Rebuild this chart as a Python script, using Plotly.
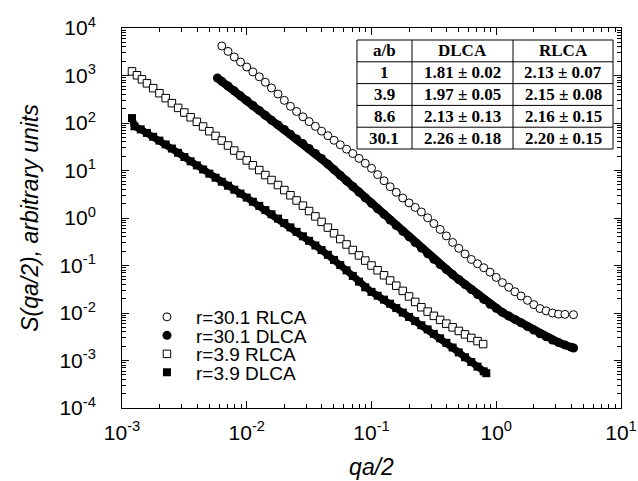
import plotly.graph_objects as go

# ---------------- data ----------------
q_rlca30 = [0.00631, 0.00708, 0.00794, 0.00891, 0.0100, 0.0112, 0.0126, 0.0141, 0.0158, 0.0178,
            0.0200, 0.0224, 0.0251, 0.0282, 0.0316, 0.0355, 0.0398, 0.0447, 0.0501, 0.0562,
            0.0631, 0.0708, 0.0794, 0.0891, 0.100, 0.112, 0.126, 0.141, 0.158, 0.178,
            0.200, 0.224, 0.251, 0.282, 0.316, 0.355, 0.398, 0.447, 0.501, 0.562,
            0.631, 0.708, 0.794, 0.891, 1.00, 1.12, 1.26, 1.41, 1.58, 1.78,
            2.00, 2.24, 2.51, 2.82, 3.16, 3.55, 4.16]
s_rlca30 = [4180, 3220, 2450, 1920, 1510, 1190, 938, 721, 546, 408,
            300, 225, 175, 135, 107, 85.1, 67.5, 54.0, 43.3, 34.8,
            28.1, 22.8, 18.0, 14.2, 11.1, 8.20, 6.08, 4.55, 3.47, 2.64,
            2.08, 1.67, 1.34, 1.01, 0.766, 0.574, 0.420, 0.306, 0.230, 0.175,
            0.134, 0.109, 0.0897, 0.0724, 0.0561, 0.0437, 0.0348, 0.0281, 0.0228, 0.0185,
            0.0150, 0.0124, 0.0111, 0.00998, 0.00946, 0.00937, 0.00923]

q_dlca30 = [0.00582, 0.00631, 0.00708, 0.00794, 0.00891, 0.0100, 0.0112, 0.0126, 0.0141, 0.0158,
            0.0178, 0.0200, 0.0224, 0.0251, 0.0282, 0.0316, 0.0355, 0.0398, 0.0447, 0.0501,
            0.0562, 0.0631, 0.0708, 0.0794, 0.0891, 0.100, 0.112, 0.126, 0.141, 0.158,
            0.178, 0.200, 0.224, 0.251, 0.282, 0.316, 0.355, 0.398, 0.447, 0.501,
            0.562, 0.631, 0.708, 0.794, 0.891, 1.00, 1.12, 1.26, 1.41, 1.58,
            1.78, 2.00, 2.24, 2.51, 2.82, 3.16, 3.55, 3.98, 4.17]
s_dlca30 = [886, 754, 601, 475, 373, 295, 234, 184, 145, 114,
            91.2, 72.9, 58.2, 46.2, 36.8, 29.0, 22.8, 17.9, 13.6, 10.4,
            7.91, 6.03, 4.60, 3.51, 2.67, 2.04, 1.56, 1.19, 0.903, 0.690,
            0.526, 0.401, 0.305, 0.233, 0.177, 0.135, 0.104, 0.0820, 0.0643, 0.0506,
            0.0397, 0.0313, 0.0245, 0.0193, 0.0153, 0.0126, 0.0103, 0.00863, 0.00733, 0.00624,
            0.00520, 0.00436, 0.00366, 0.00315, 0.00270, 0.00238, 0.00213, 0.00191, 0.00183]

q_rlca39 = [0.001202, 0.001318, 0.001445, 0.001585, 0.001778, 0.001995, 0.002239, 0.002512, 0.002818, 0.003162,
            0.003548, 0.003981, 0.004467, 0.005012, 0.005623, 0.00631, 0.00708, 0.00794, 0.00891, 0.0100,
            0.0112, 0.0126, 0.0141, 0.0158, 0.0178, 0.0200, 0.0224, 0.0251, 0.0282, 0.0316,
            0.0355, 0.0398, 0.0447, 0.0501, 0.0562, 0.0631, 0.0708, 0.0794, 0.0891, 0.100,
            0.112, 0.126, 0.141, 0.158, 0.178, 0.200, 0.224, 0.251, 0.282, 0.316,
            0.355, 0.398, 0.447, 0.501, 0.562, 0.631, 0.708, 0.785]
s_rlca39 = [1220, 1010, 830, 684, 541, 424, 334, 262, 208, 166,
            132, 106, 84.3, 67.1, 53.6, 42.7, 33.6, 26.3, 20.7, 16.3,
            12.9, 10.2, 8.02, 6.30, 4.95, 3.87, 3.01, 2.34, 1.82, 1.40,
            1.08, 0.828, 0.628, 0.476, 0.361, 0.277, 0.212, 0.163, 0.127, 0.100,
            0.0793, 0.0622, 0.0483, 0.0376, 0.0292, 0.0223, 0.0171, 0.0132, 0.0107, 0.00871,
            0.00716, 0.00597, 0.00499, 0.00419, 0.00354, 0.00299, 0.00256, 0.00222]

q_dlca39 = [0.001202, 0.001259, 0.001413, 0.001585, 0.001778, 0.001995, 0.002239, 0.002512, 0.002818, 0.003162,
            0.003548, 0.003981, 0.004467, 0.005012, 0.005623, 0.00631, 0.00708, 0.00794, 0.00891, 0.0100,
            0.0112, 0.0126, 0.0141, 0.0158, 0.0178, 0.0200, 0.0224, 0.0251, 0.0282, 0.0316,
            0.0355, 0.0398, 0.0447, 0.0501, 0.0562, 0.0631, 0.0708, 0.0794, 0.0891, 0.100,
            0.112, 0.126, 0.141, 0.158, 0.178, 0.200, 0.224, 0.251, 0.282, 0.316,
            0.355, 0.398, 0.447, 0.501, 0.562, 0.631, 0.708, 0.794, 0.832]
s_dlca39 = [127, 85.1, 73.5, 61.8, 51.3, 42.6, 35.4, 29.0, 23.6, 19.2,
            15.6, 12.8, 10.5, 8.57, 7.05, 5.79, 4.77, 3.94, 3.26, 2.69,
            2.20, 1.80, 1.47, 1.20, 0.970, 0.785, 0.635, 0.512, 0.412, 0.331,
            0.264, 0.211, 0.168, 0.131, 0.102, 0.0791, 0.0603, 0.0457, 0.0347, 0.0278,
            0.0231, 0.0191, 0.0157, 0.0127, 0.0102, 0.00826, 0.00675, 0.00552, 0.00452, 0.00364,
            0.00293, 0.00236, 0.00188, 0.00148, 0.00117, 0.000929, 0.000741, 0.000592, 0.000541]

legend_names = ["r=30.1 RLCA", "r=30.1 DLCA", "r=3.9 RLCA", "r=3.9 DLCA"]

x_tick_vals = [1e-3, 1e-2, 1e-1, 1e0, 1e1]
x_tick_text = ["10<sup>-3</sup>", "10<sup>-2</sup>", "10<sup>-1</sup>", "10<sup>0</sup>", "10<sup>1</sup>"]
y_tick_vals = [1e-4, 1e-3, 1e-2, 1e-1, 1e0, 1e1, 1e2, 1e3, 1e4]
y_tick_text = ["10<sup>-4</sup>", "10<sup>-3</sup>", "10<sup>-2</sup>", "10<sup>-1</sup>", "10<sup>0</sup>",
               "10<sup>1</sup>", "10<sup>2</sup>", "10<sup>3</sup>", "10<sup>4</sup>"]

table_header = ["a/b", "DLCA", "RLCA"]
table_ratio = ["1", "3.9", "8.6", "30.1"]
table_dlca = ["1.81 ± 0.02", "1.97 ± 0.05", "2.13 ± 0.13", "2.26 ± 0.18"]
table_rlca = ["2.13 ± 0.07", "2.15 ± 0.08", "2.16 ± 0.15", "2.20 ± 0.15"]

# ---------------- figure ----------------
SANS = "Liberation Sans, Arial, Helvetica, sans-serif"
SERIF = "Liberation Serif, Times New Roman, serif"

fig = go.Figure()

# thick underlay lines so the dense filled-marker series read as solid bands
fig.add_trace(go.Scatter(x=q_dlca30, y=s_dlca30, mode="lines", showlegend=False, hoverinfo="skip",
                         line=dict(color="black", width=8)))
fig.add_trace(go.Scatter(x=q_dlca39, y=s_dlca39, mode="lines", showlegend=False, hoverinfo="skip",
                         line=dict(color="black", width=7)))

fig.add_trace(go.Scatter(x=q_rlca30, y=s_rlca30, mode="markers", name=legend_names[0], legend="legend",
                         marker=dict(symbol="circle", size=8, color="white", line=dict(color="black", width=1))))
fig.add_trace(go.Scatter(x=q_dlca30, y=s_dlca30, mode="markers", name=legend_names[1], legend="legend2",
                         marker=dict(symbol="circle", size=9, color="black", line=dict(color="black", width=0))))
fig.add_trace(go.Scatter(x=q_rlca39, y=s_rlca39, mode="markers", name=legend_names[2], legend="legend3",
                         marker=dict(symbol="square", size=7.5, color="white", line=dict(color="black", width=1))))
fig.add_trace(go.Scatter(x=q_dlca39, y=s_dlca39, mode="markers", name=legend_names[3], legend="legend4",
                         marker=dict(symbol="square", size=8, color="black", line=dict(color="black", width=0))))

# ---- inset table (box, rules and bold text in paper coordinates) ----
tab_x = [0.4709, 0.5812, 0.7836, 0.9840]          # column borders
tab_y = [0.9684, 0.9111, 0.8537, 0.7963, 0.7389, 0.6816]  # row borders (top -> bottom)
shapes = [dict(type="rect", xref="paper", yref="paper", x0=tab_x[0], x1=tab_x[-1], y0=tab_y[-1], y1=tab_y[0],
               line=dict(color="black", width=1), fillcolor="white", layer="above")]
for xv in tab_x[1:-1]:
    shapes.append(dict(type="line", xref="paper", yref="paper", x0=xv, x1=xv, y0=tab_y[-1], y1=tab_y[0],
                       line=dict(color="black", width=1), layer="above"))
for yv in tab_y[1:-1]:
    shapes.append(dict(type="line", xref="paper", yref="paper", x0=tab_x[0], x1=tab_x[-1], y0=yv, y1=yv,
                       line=dict(color="black", width=1), layer="above"))

columns = [[table_header[0]] + table_ratio, [table_header[1]] + table_dlca, [table_header[2]] + table_rlca]
annotations = []
for ci, col in enumerate(columns):
    xc = (tab_x[ci] + tab_x[ci + 1]) / 2
    for ri, txt in enumerate(col):
        yc = (tab_y[ri] + tab_y[ri + 1]) / 2
        annotations.append(dict(text="<b>%s</b>" % txt, xref="paper", yref="paper", x=xc, y=yc,
                                xanchor="center", yanchor="middle", showarrow=False,
                                font=dict(family=SERIF, size=17, color="black")))

axis_common = dict(
    type="log", showgrid=False, zeroline=False, automargin=False,
    showline=True, linecolor="black", linewidth=1, mirror="allticks",
    ticks="inside", ticklen=7, tickwidth=1, tickcolor="black",
    tickfont=dict(family=SANS, size=21, color="black"),
    tickmode="array",
)

minor_x = [m * 10.0 ** e for e in range(-3, 1) for m in range(2, 10)]
minor_y = [m * 10.0 ** e for e in range(-4, 4) for m in range(2, 10)]

fig.update_xaxes(**axis_common, range=[-3, 1], tickvals=x_tick_vals, ticktext=x_tick_text,
                 ticklabelstandoff=6,
                 minor=dict(tickmode="array", tickvals=minor_x, ticks="inside", ticklen=4,
                            tickwidth=1, tickcolor="black", showgrid=False),
                 title=dict(text="<i>qa/2</i>", font=dict(family=SANS, size=23, color="black"), standoff=15))
fig.update_yaxes(**axis_common, range=[-4, 4], tickvals=y_tick_vals, ticktext=y_tick_text,
                 ticklabelstandoff=21,
                 minor=dict(tickmode="array", tickvals=minor_y, ticks="inside", ticklen=4,
                            tickwidth=1, tickcolor="black", showgrid=False),
                 title=dict(text="<i>S(qa/2), arbitrary units</i>", font=dict(family=SANS, size=23, color="black"),
                            standoff=14))

legend_common = dict(x=0.032, xanchor="left", yanchor="middle", bgcolor="rgba(0,0,0,0)",
                     borderwidth=0, itemwidth=48, font=dict(family=SANS, size=19, color="black"),
                     tracegroupgap=0)
fig.update_layout(
    width=638, height=481, autosize=False,
    margin=dict(l=122, r=17, t=28, b=73, autoexpand=False),
    paper_bgcolor="white", plot_bgcolor="white",
    shapes=shapes, annotations=annotations,
    legend=dict(y=0.2395, **legend_common),
    legend2=dict(y=0.1908, **legend_common),
    legend3=dict(y=0.1421, **legend_common),
    legend4=dict(y=0.0934, **legend_common),
)

fig.write_html("out.html",
               config={"displayModeBar": False, "responsive": False},
               post_script="document.body.style.margin='0';document.body.style.overflow='hidden';")
